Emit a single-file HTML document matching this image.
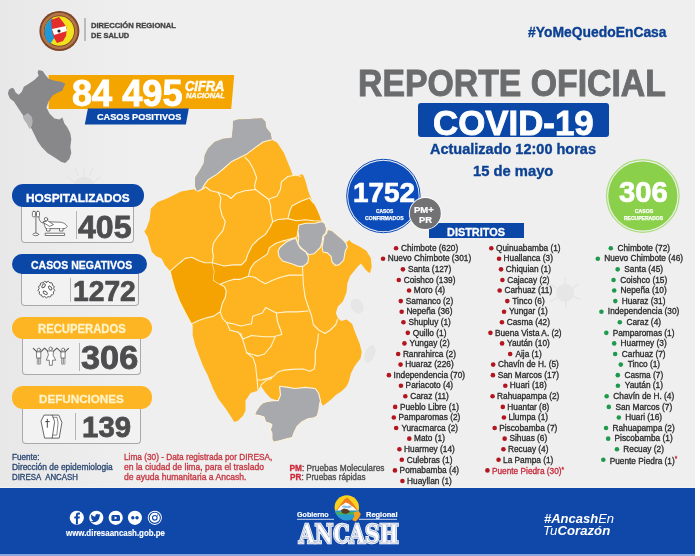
<!DOCTYPE html>
<html><head><meta charset="utf-8"><title>Reporte Oficial COVID-19 - Ancash</title>
<style>
html,body{margin:0;padding:0;background:#ffffff;}
#page{position:relative;width:700px;height:556px;overflow:hidden;font-family:'Liberation Sans', Arial, sans-serif;}
.t{position:absolute;white-space:nowrap;line-height:1;}
.s{position:absolute;left:0;top:0;}
.li{position:absolute;white-space:nowrap;font-size:8.3px;line-height:1;color:#2a2a2a;font-family:'Liberation Sans', Arial, sans-serif;-webkit-text-stroke:0.3px #2a2a2a;}
.b{display:inline-block;width:4.6px;height:4.6px;border-radius:50%;vertical-align:0.4px;-webkit-text-stroke:0;}
</style></head>
<body><div id="page">
<div style="position:absolute;left:0;top:0;width:695px;height:488px;background:#efefef;"></div>
<div style="position:absolute;left:0;top:0;width:140px;height:488px;background:linear-gradient(90deg,#e8e8e8,rgba(239,239,239,0));"></div>
<svg class="s" width="700" height="556" viewBox="0 0 700 556"><g fill="#e4e4e4" stroke="none">
<ellipse cx="357" cy="306" rx="6" ry="8" transform="rotate(-30 357 306)" fill="#e6e6e6"/><ellipse cx="370" cy="354" rx="5" ry="9" transform="rotate(20 370 354)" fill="#e6e6e6"/>
</g>
<g fill="none" stroke="#e6e6e6" stroke-width="1.6" stroke-linecap="round">
<circle cx="565" cy="293" r="9" fill="#e6e6e6" stroke="none"/>
<path d="M565,284 V278 M573,288 L578,284 M574,297 L580,299 M566,302 V308 M557,298 L551,301 M556,288 L551,284"/>
<circle cx="84" cy="188" r="11" fill="#e4e4e4" stroke="none"/>
<path d="M84,177 V169 M94,182 L100,177 M74,182 L68,177 M90,175 L93,168 M78,175 L75,168"/>
</g></svg>
<div style="position:absolute;left:0;top:488px;width:695px;height:66px;background:#0f48a9;"></div>
<div style="position:absolute;left:0;top:554px;width:695px;height:2px;background:#8aa6dc;"></div>
<div style="position:absolute;left:0;top:487px;width:695px;height:1px;background:#f2f2f2;"></div>
<svg class="s" width="700" height="556" viewBox="0 0 700 556"><circle cx="59.4" cy="31" r="20" fill="#7e4526"/>
<circle cx="59.4" cy="31" r="18.2" fill="#b47548"/>
<circle cx="59.4" cy="31" r="15.4" fill="#6e3b20"/>
<circle cx="59.4" cy="31" r="14.7" fill="#f2e21e"/>
<path d="M59.4,31 L44.8,31 A14.6,14.6 0 0 1 52,18.4 Z" fill="#8cc43f"/>
<path d="M52,18.4 L59.4,31 L50,44 A14.6,14.6 0 0 1 44.8,31 A14.6,14.6 0 0 1 52,18.4Z" fill="#1e98d8"/>
<path d="M51,20 L59,17 L63,22 L67,28 L66,36 L63,41 L57,43 L54,38 L52,31 Z" fill="#e32d2d"/>
<path d="M52,29 L66,26 L67,31 L54,35 Z" fill="#ffffff"/>
<circle cx="59" cy="31" r="1.6" fill="#222"/>
<line x1="85" y1="18" x2="85" y2="41" stroke="#8a8a8a" stroke-width="1"/></svg>
<div class="t" style="left:90.77px;top:22px;color:#444446;font-family:'Liberation Sans', Arial, sans-serif;font-size:8.1px;font-weight:700;font-style:normal;-webkit-text-stroke:0.35px #444446;transform:scaleX(0.9400);transform-origin:0 0;">DIRECCIÓN REGIONAL</div>
<div class="t" style="left:90.77px;top:32px;color:#444446;font-family:'Liberation Sans', Arial, sans-serif;font-size:8.1px;font-weight:700;font-style:normal;-webkit-text-stroke:0.35px #444446;transform:scaleX(0.9244);transform-origin:0 0;">DE SALUD</div>
<div class="t" style="left:528.00px;top:25px;color:#0d4193;font-family:'Liberation Sans', Arial, sans-serif;font-size:14.2px;font-weight:700;font-style:normal;-webkit-text-stroke:0.35px #0d4193;transform:scaleX(0.9782);transform-origin:0 0;">#YoMeQuedoEnCasa</div>
<div class="t" style="left:358.45px;top:66px;color:#6b6c6e;font-family:'Liberation Sans', Arial, sans-serif;font-size:36.6px;font-weight:700;font-style:normal;-webkit-text-stroke:0.92px #6b6c6e;transform:scaleX(0.9237);transform-origin:0 0;">REPORTE OFICIAL</div>
<div style="position:absolute;left:418px;top:102.8px;width:190.8px;height:33.8px;background:#0a47a6;border-radius:3px;"></div>
<div class="t" style="left:433.00px;top:105px;color:#ffffff;font-family:'Liberation Sans', Arial, sans-serif;font-size:35px;font-weight:700;font-style:normal;-webkit-text-stroke:0.88px #ffffff;transform:scaleX(0.9956);transform-origin:0 0;">COVID-19</div>
<div class="t" style="left:430.14px;top:142px;color:#0d4193;font-family:'Liberation Sans', Arial, sans-serif;font-size:14px;font-weight:700;font-style:normal;-webkit-text-stroke:0.35px #0d4193;transform:scaleX(1.0354);transform-origin:0 0;">Actualizado 12:00 horas</div>
<div class="t" style="left:473.32px;top:164px;color:#0d4193;font-family:'Liberation Sans', Arial, sans-serif;font-size:14.2px;font-weight:700;font-style:normal;-webkit-text-stroke:0.35px #0d4193;transform:scaleX(1.0400);transform-origin:0 0;">15 de mayo</div>
<div style="position:absolute;left:429.4px;top:222.9px;width:94.7px;height:15.4px;background:#0a47a6;"></div>
<div class="t" style="left:447.40px;top:227px;color:#ffffff;font-family:'Liberation Sans', Arial, sans-serif;font-size:11px;font-weight:700;font-style:normal;-webkit-text-stroke:0.28px #ffffff;transform:scaleX(0.9922);transform-origin:0 0;">DISTRITOS</div>
<svg class="s" width="700" height="556" viewBox="0 0 700 556"><circle cx="383.4" cy="196" r="36.7" fill="none" stroke="#0c4cba" stroke-width="1"/>
<circle cx="383.4" cy="196" r="35.3" fill="#0c4cba"/>
<circle cx="642.8" cy="196" r="36.3" fill="none" stroke="#a9de78" stroke-width="1.2"/>
<circle cx="642.8" cy="196" r="34.6" fill="#8bd04b"/>
<circle cx="425.3" cy="213.5" r="16.4" fill="#ffffff"/>
<circle cx="425.3" cy="213.5" r="15.5" fill="#727274"/></svg>
<div class="t" style="left:353.23px;top:178px;color:#ffffff;font-family:'Liberation Sans', Arial, sans-serif;font-size:28.5px;font-weight:700;font-style:normal;-webkit-text-stroke:0.71px #ffffff;transform:scaleX(0.9796);transform-origin:0 0;">1752</div>
<div class="t" style="left:376.10px;top:209px;color:#ffffff;font-family:'Liberation Sans', Arial, sans-serif;font-size:5.1px;font-weight:700;font-style:normal;-webkit-text-stroke:0.25px #ffffff;transform:scaleX(0.9556);transform-origin:0 0;">CASOS</div>
<div class="t" style="left:365.10px;top:216px;color:#ffffff;font-family:'Liberation Sans', Arial, sans-serif;font-size:5.1px;font-weight:700;font-style:normal;-webkit-text-stroke:0.25px #ffffff;">CONFIRMADOS</div>
<div class="t" style="left:414.39px;top:206px;color:#ffffff;font-family:'Liberation Sans', Arial, sans-serif;font-size:9.3px;font-weight:700;font-style:normal;-webkit-text-stroke:0.23px #ffffff;transform:scaleX(1.0240);transform-origin:0 0;">PM+</div>
<div class="t" style="left:419.20px;top:216px;color:#ffffff;font-family:'Liberation Sans', Arial, sans-serif;font-size:9.3px;font-weight:700;font-style:normal;-webkit-text-stroke:0.23px #ffffff;transform:scaleX(1.0041);transform-origin:0 0;">PR</div>
<div class="t" style="left:619.45px;top:177px;color:#ffffff;font-family:'Liberation Sans', Arial, sans-serif;font-size:29.5px;font-weight:700;font-style:normal;-webkit-text-stroke:0.74px #ffffff;transform:scaleX(0.9907);transform-origin:0 0;">306</div>
<div class="t" style="left:634.80px;top:209px;color:#ffffff;font-family:'Liberation Sans', Arial, sans-serif;font-size:5.2px;font-weight:700;font-style:normal;-webkit-text-stroke:0.25px #ffffff;">CASOS</div>
<div class="t" style="left:624.36px;top:216px;color:#ffffff;font-family:'Liberation Sans', Arial, sans-serif;font-size:5.2px;font-weight:700;font-style:normal;-webkit-text-stroke:0.25px #ffffff;transform:scaleX(0.9675);transform-origin:0 0;">RECUPERADOS</div>
<div class="li" style="left:401.00px;top:243.9px;">Chimbote (620)</div>
<div class="li" style="left:387.75px;top:254.48px;">Nuevo Chimbote (301)</div>
<div class="li" style="left:407.88px;top:265.06px;">Santa (127)</div>
<div class="li" style="left:403.75px;top:275.64px;">Coishco (139)</div>
<div class="li" style="left:413.75px;top:286.22px;">Moro (4)</div>
<div class="li" style="left:405.75px;top:296.8px;">Samanco (2)</div>
<div class="li" style="left:406.38px;top:307.38px;">Nepeña (36)</div>
<div class="li" style="left:408.38px;top:317.96px;">Shupluy (1)</div>
<div class="li" style="left:412.75px;top:328.54px;">Quillo (1)</div>
<div class="li" style="left:409.62px;top:339.12px;">Yungay (2)</div>
<div class="li" style="left:402.88px;top:349.7px;">Ranrahirca (2)</div>
<div class="li" style="left:405.25px;top:360.28px;">Huaraz (226)</div>
<div class="li" style="left:393.62px;top:370.86px;">Independencia (70)</div>
<div class="li" style="left:405.62px;top:381.44px;">Pariacoto (4)</div>
<div class="li" style="left:410.25px;top:392.02px;">Caraz (11)</div>
<div class="li" style="left:399.88px;top:402.6px;">Pueblo Libre (1)</div>
<div class="li" style="left:398.50px;top:413.18px;">Pamparomas (2)</div>
<div class="li" style="left:401.38px;top:423.76px;">Yuracmarca (2)</div>
<div class="li" style="left:414.00px;top:434.34px;">Mato (1)</div>
<div class="li" style="left:404.12px;top:444.92px;">Huarmey (14)</div>
<div class="li" style="left:406.75px;top:455.5px;">Culebras (1)</div>
<div class="li" style="left:399.62px;top:466.08px;">Pomabamba (4)</div>
<div class="li" style="left:407.12px;top:476.66px;">Huayllan (1)</div>
<svg class="s" width="700" height="556" viewBox="0 0 700 556"><circle cx="396.05" cy="248.20" r="2.3" fill="#b3161f"/><circle cx="383.05" cy="258.78" r="2.3" fill="#b3161f"/><circle cx="402.93" cy="269.36" r="2.3" fill="#b3161f"/><circle cx="398.80" cy="279.94" r="2.3" fill="#b3161f"/><circle cx="409.05" cy="290.52" r="2.3" fill="#b3161f"/><circle cx="400.80" cy="301.10" r="2.3" fill="#b3161f"/><circle cx="401.68" cy="311.68" r="2.3" fill="#b3161f"/><circle cx="403.43" cy="322.26" r="2.3" fill="#b3161f"/><circle cx="407.80" cy="332.84" r="2.3" fill="#b3161f"/><circle cx="404.43" cy="343.42" r="2.3" fill="#b3161f"/><circle cx="398.18" cy="354.00" r="2.3" fill="#b3161f"/><circle cx="400.55" cy="364.58" r="2.3" fill="#b3161f"/><circle cx="388.93" cy="375.16" r="2.3" fill="#b3161f"/><circle cx="400.93" cy="385.74" r="2.3" fill="#b3161f"/><circle cx="405.30" cy="396.32" r="2.3" fill="#b3161f"/><circle cx="395.18" cy="406.90" r="2.3" fill="#b3161f"/><circle cx="393.80" cy="417.48" r="2.3" fill="#b3161f"/><circle cx="396.18" cy="428.06" r="2.3" fill="#b3161f"/><circle cx="409.30" cy="438.64" r="2.3" fill="#b3161f"/><circle cx="399.43" cy="449.22" r="2.3" fill="#b3161f"/><circle cx="401.80" cy="459.80" r="2.3" fill="#b3161f"/><circle cx="394.93" cy="470.38" r="2.3" fill="#b3161f"/><circle cx="402.43" cy="480.96" r="2.3" fill="#b3161f"/></svg>
<div class="li" style="left:496.05px;top:243.9px;">Quinuabamba (1)</div>
<div class="li" style="left:503.55px;top:254.48px;">Huallanca (3)</div>
<div class="li" style="left:505.80px;top:265.06px;">Chiquian (1)</div>
<div class="li" style="left:507.17px;top:275.64px;">Cajacay (2)</div>
<div class="li" style="left:504.42px;top:286.22px;">Carhuaz (11)</div>
<div class="li" style="left:512.30px;top:296.8px;">Tinco (6)</div>
<div class="li" style="left:509.05px;top:307.38px;">Yungar (1)</div>
<div class="li" style="left:506.67px;top:317.96px;">Casma (42)</div>
<div class="li" style="left:494.92px;top:328.54px;">Buena Vista A. (2)</div>
<div class="li" style="left:507.05px;top:339.12px;">Yaután (10)</div>
<div class="li" style="left:515.42px;top:349.7px;">Aija (1)</div>
<div class="li" style="left:497.92px;top:360.28px;">Chavín de H. (5)</div>
<div class="li" style="left:497.67px;top:370.86px;">San Marcos (17)</div>
<div class="li" style="left:509.80px;top:381.44px;">Huari (18)</div>
<div class="li" style="left:497.05px;top:392.02px;">Rahuapampa (2)</div>
<div class="li" style="left:507.30px;top:402.6px;">Huantar (8)</div>
<div class="li" style="left:508.42px;top:413.18px;">Llumpa (1)</div>
<div class="li" style="left:499.17px;top:423.76px;">Piscobamba (7)</div>
<div class="li" style="left:509.42px;top:434.34px;">Sihuas (6)</div>
<div class="li" style="left:507.92px;top:444.92px;">Recuay (4)</div>
<div class="li" style="left:503.05px;top:455.5px;">La Pampa (1)</div>
<div class="li" style="left:491.92px;top:466.08px;"><span style="color:#c8283a;-webkit-text-stroke-color:#c8283a">Puente Piedra (30)<span style="font-size:6.5px;vertical-align:2.5px">*</span></span></div>
<svg class="s" width="700" height="556" viewBox="0 0 700 556"><circle cx="491.30" cy="248.20" r="2.3" fill="#b3161f"/><circle cx="499.05" cy="258.78" r="2.3" fill="#b3161f"/><circle cx="501.05" cy="269.36" r="2.3" fill="#b3161f"/><circle cx="502.42" cy="279.94" r="2.3" fill="#b3161f"/><circle cx="499.67" cy="290.52" r="2.3" fill="#b3161f"/><circle cx="507.30" cy="301.10" r="2.3" fill="#b3161f"/><circle cx="504.05" cy="311.68" r="2.3" fill="#b3161f"/><circle cx="501.92" cy="322.26" r="2.3" fill="#b3161f"/><circle cx="490.42" cy="332.84" r="2.3" fill="#b3161f"/><circle cx="502.05" cy="343.42" r="2.3" fill="#b3161f"/><circle cx="510.17" cy="354.00" r="2.3" fill="#b3161f"/><circle cx="493.17" cy="364.58" r="2.3" fill="#b3161f"/><circle cx="492.92" cy="375.16" r="2.3" fill="#b3161f"/><circle cx="505.30" cy="385.74" r="2.3" fill="#b3161f"/><circle cx="492.55" cy="396.32" r="2.3" fill="#b3161f"/><circle cx="502.80" cy="406.90" r="2.3" fill="#b3161f"/><circle cx="503.92" cy="417.48" r="2.3" fill="#b3161f"/><circle cx="494.67" cy="428.06" r="2.3" fill="#b3161f"/><circle cx="504.67" cy="438.64" r="2.3" fill="#b3161f"/><circle cx="503.42" cy="449.22" r="2.3" fill="#b3161f"/><circle cx="498.55" cy="459.80" r="2.3" fill="#b3161f"/><circle cx="487.42" cy="470.38" r="2.3" fill="#b3161f"/></svg>
<div class="li" style="left:617.45px;top:243.9px;">Chimbote (72)</div>
<div class="li" style="left:604.20px;top:254.48px;">Nuevo Chimbote (46)</div>
<div class="li" style="left:624.33px;top:265.06px;">Santa (45)</div>
<div class="li" style="left:620.20px;top:275.64px;">Coishco (15)</div>
<div class="li" style="left:620.58px;top:286.22px;">Nepeña (10)</div>
<div class="li" style="left:621.70px;top:296.8px;">Huaraz (31)</div>
<div class="li" style="left:607.83px;top:307.38px;">Independencia (30)</div>
<div class="li" style="left:626.45px;top:317.96px;">Caraz (4)</div>
<div class="li" style="left:612.70px;top:328.54px;">Pamparomas (1)</div>
<div class="li" style="left:620.58px;top:339.12px;">Huarmey (3)</div>
<div class="li" style="left:621.83px;top:349.7px;">Carhuaz (7)</div>
<div class="li" style="left:627.70px;top:360.28px;">Tinco (1)</div>
<div class="li" style="left:624.45px;top:370.86px;">Casma (7)</div>
<div class="li" style="left:624.83px;top:381.44px;">Yaután (1)</div>
<div class="li" style="left:613.33px;top:392.02px;">Chavín de H. (4)</div>
<div class="li" style="left:615.45px;top:402.6px;">San Marcos (7)</div>
<div class="li" style="left:625.20px;top:413.18px;">Huari (16)</div>
<div class="li" style="left:612.45px;top:423.76px;">Rahuapampa (2)</div>
<div class="li" style="left:614.58px;top:434.34px;">Piscobamba (1)</div>
<div class="li" style="left:623.33px;top:444.92px;">Recuay (2)</div>
<div class="li" style="left:609.70px;top:455.5px;">Puente Piedra (1)<span style="color:#d0283a;-webkit-text-stroke-color:#d0283a;font-size:6.5px;vertical-align:2.5px">*</span></div>
<svg class="s" width="700" height="556" viewBox="0 0 700 556"><circle cx="610.80" cy="248.20" r="2.3" fill="#1f9a4c"/><circle cx="597.80" cy="258.78" r="2.3" fill="#1f9a4c"/><circle cx="617.68" cy="269.36" r="2.3" fill="#1f9a4c"/><circle cx="613.55" cy="279.94" r="2.3" fill="#1f9a4c"/><circle cx="614.18" cy="290.52" r="2.3" fill="#1f9a4c"/><circle cx="615.30" cy="301.10" r="2.3" fill="#1f9a4c"/><circle cx="601.43" cy="311.68" r="2.3" fill="#1f9a4c"/><circle cx="619.80" cy="322.26" r="2.3" fill="#1f9a4c"/><circle cx="606.30" cy="332.84" r="2.3" fill="#1f9a4c"/><circle cx="614.18" cy="343.42" r="2.3" fill="#1f9a4c"/><circle cx="615.18" cy="354.00" r="2.3" fill="#1f9a4c"/><circle cx="620.80" cy="364.58" r="2.3" fill="#1f9a4c"/><circle cx="617.80" cy="375.16" r="2.3" fill="#1f9a4c"/><circle cx="617.93" cy="385.74" r="2.3" fill="#1f9a4c"/><circle cx="606.68" cy="396.32" r="2.3" fill="#1f9a4c"/><circle cx="608.80" cy="406.90" r="2.3" fill="#1f9a4c"/><circle cx="618.80" cy="417.48" r="2.3" fill="#1f9a4c"/><circle cx="606.05" cy="428.06" r="2.3" fill="#1f9a4c"/><circle cx="608.18" cy="438.64" r="2.3" fill="#1f9a4c"/><circle cx="616.93" cy="449.22" r="2.3" fill="#1f9a4c"/><circle cx="603.30" cy="459.80" r="2.3" fill="#1f9a4c"/></svg>
<svg class="s" width="700" height="556" viewBox="0 0 700 556"><polygon points="48.6,75 234.2,75 231.2,109 48.6,109" fill="#f5a500"/>
<polygon points="87.9,108.4 188.8,108.4 185.9,124.5 84.8,124.5" fill="#0a47a6"/>
<polygon fill="#88888b" points="38.6,69.9 42.6,70.9 45.5,74.9 48.5,78.8 54.5,80.8 61.4,81.8 65.3,83.8 63.4,87.7 62.4,90.7 57.4,92.7 52.5,95.6 48.5,101.6 46.5,107.5 49.5,113.5 54.5,118.4 59.4,119.4 62.4,117.4 64.4,123.4 67.3,127.3 70.3,133.3 71.3,139.2 70.3,147.1 71.3,153.1 69.3,159 65.3,163 61.4,162 55.4,158 47.5,153.1 41.6,147.1 37.6,141.2 33.7,133.3 30.7,127.3 25.7,119.4 21.8,113.5 17.8,107.5 13.9,101.6 9.9,98.6 7.9,93.7 8.9,89.7 11.9,87.7 13.9,88.7 15.8,92.7 18.8,94.7 21.8,91.7 23.8,86.7 28.7,83.8 34.7,79.8 38.6,75.8 37.6,71.9"/>
<polygon fill="#b3b3b6" points="22.8,116.4 27.7,113.1 31.7,116.4 32.7,121.4 31.7,126.3 29.7,129.3 26.7,123.4 23.8,119.4"/></svg>
<div class="t" style="left:71.85px;top:76px;color:#ffffff;font-family:'Liberation Sans', Arial, sans-serif;font-size:36px;font-weight:700;font-style:normal;-webkit-text-stroke:0.9px #ffffff;transform:scaleX(1.0041);transform-origin:0 0;">84 495</div>
<div class="t" style="left:184.67px;top:80px;color:#fffaf0;font-family:'Liberation Sans', Arial, sans-serif;font-size:13.8px;font-weight:700;font-style:italic;-webkit-text-stroke:0.6px #fffaf0;transform:scaleX(0.9358);transform-origin:0 0;">CIFRA</div>
<div class="t" style="left:185.70px;top:92px;color:#fffaf0;font-family:'Liberation Sans', Arial, sans-serif;font-size:7.3px;font-weight:700;font-style:italic;-webkit-text-stroke:0.35px #fffaf0;transform:scaleX(1.0092);transform-origin:0 0;">NACIONAL</div>
<div class="t" style="left:96.95px;top:113px;color:#ffffff;font-family:'Liberation Sans', Arial, sans-serif;font-size:9.3px;font-weight:700;font-style:normal;-webkit-text-stroke:0.23px #ffffff;transform:scaleX(0.9830);transform-origin:0 0;">CASOS POSITIVOS</div>
<svg class="s" width="700" height="556" viewBox="0 0 700 556">
<g stroke="#fff4d6" stroke-width="1.1" stroke-linejoin="round" fill="none">
<polygon fill="#fdb420" stroke="none" points="233,121 238,119.4 244.8,119.3 250,119 262,118.2 265.3,121.5 266.3,128 270.7,133.3 271.7,139.8 277,142.6 280.6,147.7 284,152.9 287.4,161.4 290.9,170 292.6,175 297.7,175 302.9,174.5 304.6,178.6 306.3,183.7 308,190.6 311.3,199 315.8,208 319.4,215.2 321,220 322.1,221.5 324.8,223.2 326.6,228.6 332,230.4 338.3,235.8 343.7,240.3 346.4,242.5 349.2,240 351.9,242.7 359.1,246.3 366.3,250.8 370.8,258 371.7,267 369.9,273.3 366.3,270.6 360.9,263.4 357.3,267 350.1,276 347.4,283.2 346.5,292.2 343,301.2 337.9,306.5 335.8,313 337.9,318.3 341.2,321 346.6,319.4 352,323.7 355.2,332.4 359.5,343.2 361.7,351.8 360.6,358.3 357.3,362.6 354.1,366.9 350.9,373.4 348.7,382 346.6,386.3 342.2,390.7 335.8,395 331.4,399.3 326.1,403.6 322.8,405.8 320.7,401.4 318.5,392.8 315.3,388.5 305.5,387.4 294.8,388.5 288.3,387.4 281,387 279.6,386.3 280.5,395.1 278.2,400.7 270.7,398.2 265.7,393.1 260.6,385.6 258.1,390.6 250.6,393.1 245.5,400.7 245.5,410.8 243,415.8 238,420.8 234.2,422.1 230.4,415.8 225.4,408.2 217.9,398.2 212.8,388.1 207.8,375.5 202.8,365.5 199,355.4 195.2,345.3 192.7,335.3 192.7,325.2 191.4,324 185.2,312.6 180.1,302.6 175.1,290 171.7,277.9 170.2,271.3 164.8,264.9 161.6,258.4 156.2,256.2 151.9,251.9 149.7,244.4 147.6,236.8 144.3,231.4 146.5,228.2 149.7,219.5 150.8,208.7 157.3,202.3 168.1,198 181,191.5 194,189.3 197.3,191.6 195.1,186.2 195.1,177.6 199.4,171.1 203.7,163.6 204.8,154.9 208.1,148.5 214.5,142 223.2,138.7 231.8,137.7 232.9,128"/>
<!-- darker provinces -->
<polygon fill="#f5a302" points="170.2,271.3 172.4,269.2 179.9,262.7 185.3,258.4 191.8,257.3 198.3,260.5 204.8,262.7 212.3,262.7 214.5,271.3 213.4,280 219.9,284.3 224.2,286.4 226.3,290.8 225.3,297.2 222.4,303.2 220.2,311.8 213.7,316.1 205.1,318.3 198.6,320.4 191.4,324 185.2,312.6 180.1,302.6 175.1,290 171.7,277.9"/>
<polygon fill="#f5a302" stroke="none" points="212.3,262.7 224.2,266 232.8,264.9 241.4,264.9 245.8,260.5 247.9,254.1 252.2,245.4 258.7,239 265.2,234.6 269.5,228.2 272.7,221.7 278.1,219.5 287.9,218.6 290.1,210 292.2,205.7 300.9,201.3 309.5,198.1 313.8,203.5 317.1,210 320.3,218.6 321,222 305,225 298,231 297,237 290,239 282.5,241.1 276,243.3 269.5,247.6 267.3,254.1 260.9,258.4 254.4,262.7 250.4,268.6 248.3,276.2 239.6,279.4 233.2,279.4 226.7,281.6 219.9,284.3 213.4,280 214.5,271.3"/>
<!-- band outline lines -->
<polyline points="212.3,262.7 224.2,266 232.8,264.9 241.4,264.9 245.8,260.5 247.9,254.1 252.2,245.4 258.7,239 265.2,234.6 269.5,228.2 272.7,221.7 278.1,219.5 287.9,218.6 290.1,210 292.2,205.7 300.9,201.3 309.5,198.1 313.8,203.5"/>
<polyline points="298,231 297,237 290,239 282.5,241.1 276,243.3 269.5,247.6 267.3,254.1 260.9,258.4 254.4,262.7 250.4,268.6 248.3,276.2 239.6,279.4 233.2,279.4 226.7,281.6 219.9,284.3"/>
<polyline points="287.9,218.6 296.6,220.8 305.2,219.7 313.8,220.8 320.5,221"/>
<!-- internal borders -->
<polyline points="244.8,157.1 249.1,161.4 253.4,169 256.6,177.6 254.5,186.2 255.5,189.5"/>
<polyline points="201.6,189.5 205.9,187 210.2,190.5 218.9,192.7 227.5,195.5 231,198.5 236.1,193.5 244.8,190.8 255.5,189.5 262,194.5 268.5,199.2 270.6,206 270.7,212 272.7,221.7"/>
<polyline points="217.7,191.5 220.9,198 219.9,206.6 222,215.2 225.3,221.7 223.1,230.3 217.7,236.8 213.4,243.3 212.3,249.8 213.4,256.2 212.3,262.7"/>
<polyline points="268.5,199.2 277.1,195.9 280.4,189.5 281.4,181.9 287.9,176.5 296.6,175 300.9,176.5"/>
<polyline points="248.3,276.2 254.8,277.3 261.2,281.6 265.5,283.7 272,280.5 280.7,277.3 289.3,275.1 295.8,275.1 302.2,275.1"/>
<polyline points="302.5,267 303.4,285 305.2,297.6 308.8,308.3 311.5,315.5 313.3,324.5 318.7,330 325,333.5 330.4,330 335.8,324.5 337.6,319.1"/>
<polyline points="220.2,311.8 222.4,318.3 226.7,322.6 233.2,323.7 240.8,326 251.6,323.7 252.7,316.2 262.4,313 265.6,307.6 276.4,313 286.1,311.9 296.9,311.9 308.5,311"/>
<polyline points="276.4,313 277.5,321.6 280.7,330.2 281.8,334.5 273.2,336.7 264.5,336.7 251.6,335.6 243,338.9 238.6,332.4 230,330.2 226.7,322.6"/>
<polyline points="240.5,332.8 243,340.3 246.8,352.9 253.1,357.9 255.6,365.5 256.9,378 258.1,390.6"/>
<polyline points="246.8,352.9 258.1,356.1 264.5,354 271,346.4 274.2,338.9 275.3,336.7"/>
<polyline points="318.5,333.5 317.4,343.2 315.3,351.8 315.3,362.6 314.2,369.1 309.9,371.2 303.4,369.1 294.8,369.1 284,370.1 277.5,372.3 273.2,376.6 262.4,379.9 256.9,380"/>
<polyline points="260.6,385.6 265.7,380.6 272,378.5"/>
<!-- grays -->
<polygon fill="#a8a9ad" points="233,121 238,119.4 244.8,119.3 250,119 262,118.2 265.3,121.5 266.3,128 270.7,133.3 271.7,139.8 263.1,142 255.5,147.4 246.9,153.9 238.3,158.2 231.8,161.4 223.2,169 216.7,174.4 208.1,179.8 204.8,184.1 201.6,189.5 197.3,191.6 195.1,186.2 195.1,177.6 199.4,171.1 203.7,163.6 204.8,154.9 208.1,148.5 214.5,142 223.2,138.7 231.8,137.7 232.9,128" stroke="none"/>
<polyline points="271.7,139.8 263.1,142 255.5,147.4 246.9,153.9 238.3,158.2 231.8,161.4 223.2,169 216.7,174.4 208.1,179.8 204.8,184.1 201.6,189.5 197.3,191.6"/>
<polygon fill="#a8a9ad" points="298.8,225 305.9,223.2 314.9,223.2 322.1,221.5 324.8,223.2 326.6,228.6 325.7,233.1 323,235.8 322.1,242.1 320.3,247.5 316.7,251.1 314,253.8 308.6,254.7 305,251.1 300.6,247.5 297.9,243.9 298.8,236.7 297.9,231.3"/>
<polygon fill="#a8a9ad" points="327.5,229.5 332,230.4 338.3,235.8 343.7,240.3 346.4,243.9 347.3,247.5 345.5,250.2 344.6,254.7 343.7,260.1 339.2,264.6 335.6,265.5 332,261.9 331.1,256.5 327.5,252.9 323,252 322.1,247.5 323,242.1 323.9,235.8 326.6,233.1"/>
<polygon fill="#a8a9ad" points="279.9,247.5 286.2,242.1 291.6,239.4 296.1,238.5 297.9,243.9 300.6,248.4 305.9,252 308.6,257.4 307.7,262.8 303.2,266.4 298.8,266.4 291.6,263.7 282.6,261 279,256.5 278.1,251.1"/>
<polygon fill="#a8a9ad" points="279.6,386.3 288.3,387.4 294.8,388.5 305.5,387.4 315.3,388.5 318.5,392.8 320.6,401 319.8,403 319,409.3 317.4,415.6 314.3,417.9 308,418.7 301.7,421.9 297,426.6 293.9,432.9 292.3,437.6 286,439.1 279.7,440.7 273.4,442.3 271.9,439.1 271.9,432.9 270.3,429.7 271.9,425 270.3,423.4 265.6,421.9 264,417.1 259.3,415.6 254.6,414.8 256.1,410.9 259.3,406.1 262.4,403 267.1,401.4 273.4,400.6 278.2,400.7 280.5,395.1"/>
</g>
</svg>

<div style="position:absolute;left:21.4px;top:202.8px;width:113.1px;height:40.19999999999999px;border:1px solid #a9a9ab;border-top:none;border-radius:0 0 4px 4px;box-sizing:border-box;background:#f2f2f2;"></div>
<div style="position:absolute;left:12px;top:184.3px;width:132px;height:22.5px;background:#0a47a6;border-radius:11.25px;"></div>
<div style="position:absolute;left:75.6px;top:210.8px;width:1px;height:28.19999999999999px;background:#b5b5b7;"></div>
<div class="t" style="left:26.48px;top:193px;color:#ffffff;font-family:'Liberation Sans', Arial, sans-serif;font-size:11.45px;font-weight:700;font-style:normal;-webkit-text-stroke:0.29px #ffffff;transform:scaleX(1.0352);transform-origin:0 0;">HOSPITALIZADOS</div>
<div class="t" style="left:78.00px;top:213px;color:#4d4d4f;font-family:'Liberation Sans', Arial, sans-serif;font-size:30.73px;font-weight:700;font-style:normal;-webkit-text-stroke:0.77px #4d4d4f;transform:scaleX(1.0443);transform-origin:0 0;">405</div>
<div style="position:absolute;left:21.3px;top:270.3px;width:117.39999999999999px;height:36.0px;border:1px solid #a9a9ab;border-top:none;border-radius:0 0 4px 4px;box-sizing:border-box;background:#f2f2f2;"></div>
<div style="position:absolute;left:12px;top:254.1px;width:134.7px;height:20.200000000000017px;background:#0a47a6;border-radius:10.100000000000009px;"></div>
<div style="position:absolute;left:69.7px;top:278.3px;width:1px;height:24.0px;background:#b5b5b7;"></div>
<div class="t" style="left:30.67px;top:260px;color:#ffffff;font-family:'Liberation Sans', Arial, sans-serif;font-size:11.17px;font-weight:700;font-style:normal;-webkit-text-stroke:0.28px #ffffff;transform:scaleX(0.9393);transform-origin:0 0;">CASOS NEGATIVOS</div>
<div class="t" style="left:72.83px;top:277px;color:#4d4d4f;font-family:'Liberation Sans', Arial, sans-serif;font-size:28.77px;font-weight:700;font-style:normal;-webkit-text-stroke:0.72px #4d4d4f;transform:scaleX(0.9814);transform-origin:0 0;">1272</div>
<div style="position:absolute;left:22.2px;top:335.3px;width:118.39999999999999px;height:39.80000000000001px;border:1px solid #a9a9ab;border-top:none;border-radius:0 0 4px 4px;box-sizing:border-box;background:#f2f2f2;"></div>
<div style="position:absolute;left:12px;top:317.3px;width:140px;height:22.0px;background:#fdb524;border-radius:11.0px;"></div>
<div style="position:absolute;left:78.9px;top:343.3px;width:1px;height:27.80000000000001px;background:#b5b5b7;"></div>
<div class="t" style="left:37.70px;top:323px;color:#fff3c8;font-family:'Liberation Sans', Arial, sans-serif;font-size:12.15px;font-weight:700;font-style:normal;-webkit-text-stroke:0.3px #fff3c8;transform:scaleX(0.9287);transform-origin:0 0;">RECUPERADOS</div>
<div class="t" style="left:80.74px;top:341px;color:#4d4d4f;font-family:'Liberation Sans', Arial, sans-serif;font-size:33.52px;font-weight:700;font-style:normal;-webkit-text-stroke:0.84px #4d4d4f;transform:scaleX(1.0228);transform-origin:0 0;">306</div>
<div style="position:absolute;left:22.2px;top:404.6px;width:118.39999999999999px;height:39.89999999999998px;border:1px solid #a9a9ab;border-top:none;border-radius:0 0 4px 4px;box-sizing:border-box;background:#f2f2f2;"></div>
<div style="position:absolute;left:12px;top:386.4px;width:140px;height:22.200000000000045px;background:#fdb524;border-radius:11.100000000000023px;"></div>
<div style="position:absolute;left:75.4px;top:412.6px;width:1px;height:27.899999999999977px;background:#b5b5b7;"></div>
<div class="t" style="left:38.78px;top:394px;color:#fff3c8;font-family:'Liberation Sans', Arial, sans-serif;font-size:11.17px;font-weight:700;font-style:normal;-webkit-text-stroke:0.28px #fff3c8;transform:scaleX(1.0447);transform-origin:0 0;">DEFUNCIONES</div>
<div class="t" style="left:81.94px;top:412px;color:#4d4d4f;font-family:'Liberation Sans', Arial, sans-serif;font-size:30.31px;font-weight:700;font-style:normal;-webkit-text-stroke:0.76px #4d4d4f;transform:scaleX(0.9720);transform-origin:0 0;">139</div>
<svg class="s" width="700" height="556" viewBox="0 0 700 556"><g fill="#ffffff" stroke="#58585a" stroke-width="0.8" stroke-linejoin="round" stroke-linecap="round">
<!-- IV pole -->
<line x1="35.9" y1="212" x2="35.9" y2="233.5" stroke="#8a8a8c" stroke-width="1.3"/>
<rect x="32.4" y="211.3" width="3" height="5.6" rx="1.3"/>
<rect x="36.5" y="211.3" width="3" height="5.6" rx="1.3"/>
<ellipse cx="35.8" cy="234.4" rx="2.9" ry="1.3"/>
<path d="M38.9,216.8 C39.2,220 40,222.4 42.8,223" fill="none"/>
<!-- bed -->
<path d="M44,221.6 L61.5,222.3 C64.5,223.2 66.5,224.8 67.2,226.4 L65.1,228.6 L45.8,228.6 L44.8,226.2 Z"/>
<path d="M43.2,222.2 L47.6,220.6 L53.5,224.6 L50,226.2 Z"/>
<circle cx="46" cy="219.2" r="1.7"/>
<path d="M46.5,228.6 L46.5,231 L50,231 L50,228.6 M59.5,228.6 L59.5,231 L63,231 L63,228.6"/>
<path d="M45.6,233.2 L64.6,233.2 L64.6,235.5 L45.6,235.5 Z"/>
<!-- virus -->
<path d="M46.40,282.10 Q48.75,279.88 49.79,282.94 Q52.90,282.06 52.41,285.25 Q55.56,285.92 53.65,288.52 Q56.13,290.58 53.23,291.99 Q54.47,294.97 51.24,294.86 Q50.95,298.08 48.15,296.49 Q46.40,299.20 44.65,296.49 Q41.85,298.08 41.56,294.86 Q38.33,294.97 39.57,291.99 Q36.67,290.58 39.15,288.52 Q37.24,285.92 40.39,285.25 Q39.90,282.06 43.01,282.94 Q44.05,279.88 46.40,282.10 Z" stroke-width="1"/>
<ellipse cx="43.6" cy="285.8" rx="2.3" ry="1.3" transform="rotate(-50 43.6 285.8)" fill="none" stroke-width="1"/>
<ellipse cx="50.2" cy="288" rx="2.3" ry="1.3" transform="rotate(55 50.2 288)" fill="none" stroke-width="1"/>
<ellipse cx="45.2" cy="292.8" rx="2.3" ry="1.3" transform="rotate(30 45.2 292.8)" fill="none" stroke-width="1"/>
<!-- family -->
<g stroke-width="0.75">
<path d="M33.3,348.4 L37.2,352.2 M40.5,352.2 L44.6,348.1 L47.7,351.2 M53.6,351.2 L56.8,348.1 L61.4,352.2 M64.8,352.2 L68.5,348.4" fill="none" stroke-width="1.1"/>
<rect x="37.3" y="357.6" width="1.5" height="6.7" rx="0.6" stroke-width="0.6"/><rect x="39.1" y="357.6" width="1.5" height="6.7" rx="0.6" stroke-width="0.6"/><path d="M37,351.9 L40.8,351.9 L40.8,358 L37,358 Z"/>
<rect x="61.6" y="357.6" width="1.5" height="6.7" rx="0.6" stroke-width="0.6"/><rect x="63.4" y="357.6" width="1.5" height="6.7" rx="0.6" stroke-width="0.6"/><path d="M61.3,351.9 L65.1,351.9 L65.1,358 L61.3,358 Z"/>
<path d="M47.8,351 L53.5,351 L53.1,355.2 L55.7,360.2 L52.4,360.2 L52.3,365.3 L49.4,365.3 L49.3,360.2 L46.3,360.2 L48.3,355.2 Z"/>
<circle cx="38.85" cy="349.7" r="1.6"/>
<circle cx="50.65" cy="348.7" r="1.7"/>
<circle cx="63.15" cy="349.7" r="1.6"/>
</g>
<!-- coffin -->
<path d="M44.4,415.1 L58.7,415.1 L61.9,422.4 L59.2,438.1 L44.6,438.1 L41.1,421.6 Z" stroke-width="0.9"/>
<path d="M52.2,415.1 L54.6,421.6 L52.2,438.1" fill="none" stroke-width="0.9"/>
<path d="M53.3,417.3 L57,417.3 L58.1,423 L56.8,435.1 L53,435.1" fill="none" stroke-width="0.7"/>
<path d="M47.3,419.2 L47.3,427.3 M45.7,421.6 L49.3,421.6" stroke="#333" stroke-width="0.9"/>
</g>
</svg>
<div class="t" style="left:11.54px;top:453px;color:#2f4a74;font-family:'Liberation Sans', Arial, sans-serif;font-size:8.8px;font-weight:400;font-style:normal;-webkit-text-stroke:0.35px #2f4a74;transform:scaleX(0.9252);transform-origin:0 0;">Fuente:</div>
<div class="t" style="left:11.52px;top:463px;color:#2f4a74;font-family:'Liberation Sans', Arial, sans-serif;font-size:8.8px;font-weight:400;font-style:normal;-webkit-text-stroke:0.35px #2f4a74;transform:scaleX(0.9530);transform-origin:0 0;">Dirección de epidemiologia</div>
<div class="t" style="left:11.55px;top:473px;color:#2f4a74;font-family:'Liberation Sans', Arial, sans-serif;font-size:8.8px;font-weight:400;font-style:normal;-webkit-text-stroke:0.35px #2f4a74;transform:scaleX(0.8935);transform-origin:0 0;">DIRESA&nbsp; ANCASH</div>
<div class="t" style="left:123.63px;top:453px;color:#c73a45;font-family:'Liberation Sans', Arial, sans-serif;font-size:8.8px;font-weight:400;font-style:normal;-webkit-text-stroke:0.35px #c73a45;transform:scaleX(0.9391);transform-origin:0 0;">Lima (30) - Data registrada por DIRESA,</div>
<div class="t" style="left:123.86px;top:463px;color:#c73a45;font-family:'Liberation Sans', Arial, sans-serif;font-size:8.8px;font-weight:400;font-style:normal;-webkit-text-stroke:0.35px #c73a45;transform:scaleX(0.9738);transform-origin:0 0;">en la ciudad de lima, para el traslado</div>
<div class="t" style="left:123.86px;top:473px;color:#c73a45;font-family:'Liberation Sans', Arial, sans-serif;font-size:8.8px;font-weight:400;font-style:normal;-webkit-text-stroke:0.35px #c73a45;transform:scaleX(0.9739);transform-origin:0 0;">de ayuda humanitaria a Ancash.</div>
<div class="t" style="left:289.50px;top:464px;color:#4a4a4c;font-family:'Liberation Sans', Arial, sans-serif;font-size:8.3px;font-weight:400;font-style:normal;-webkit-text-stroke:0.3px #4a4a4c;"><span style="color:#d0283a;-webkit-text-stroke-color:#d0283a;font-weight:700">PM</span>: Pruebas Moleculares</div>
<div class="t" style="left:289.51px;top:473px;color:#4a4a4c;font-family:'Liberation Sans', Arial, sans-serif;font-size:8.3px;font-weight:400;font-style:normal;-webkit-text-stroke:0.3px #4a4a4c;transform:scaleX(0.9868);transform-origin:0 0;"><span style="color:#d0283a;-webkit-text-stroke-color:#d0283a;font-weight:700">PR</span>: Pruebas rápidas</div>
<svg class="s" width="700" height="556" viewBox="0 0 700 556"><circle cx="76.8" cy="517.8" r="7.1" fill="#ffffff"/>
<circle cx="96.3" cy="517.8" r="7.1" fill="#ffffff"/>
<circle cx="115.7" cy="517.8" r="7.1" fill="#ffffff"/>
<circle cx="134.9" cy="517.8" r="7.1" fill="#ffffff"/>
<circle cx="154.8" cy="517.8" r="7.1" fill="#ffffff"/>
<path d="M77.9,524.5 V518.6 H79.6 L79.9,516.6 H77.9 V515.4 C77.9,514.8 78.2,514.5 78.8,514.5 H80 V512.7 C79.6,512.6 79,512.6 78.4,512.6 C76.7,512.6 75.9,513.6 75.9,515.2 V516.6 H74.3 V518.6 H75.9 V524.5 Z" fill="#0f48a9"/>
<path d="M100.5,514.8 C100.1,515 99.7,515.1 99.3,515.1 C99.7,514.9 100,514.5 100.2,514 C99.8,514.2 99.3,514.4 98.9,514.5 C98.5,514.1 98,513.9 97.4,513.9 C96.3,513.9 95.3,514.8 95.3,516 C95.3,516.2 95.3,516.3 95.4,516.5 C93.7,516.4 92.2,515.6 91.2,514.4 C91,514.7 90.9,515.1 90.9,515.5 C90.9,516.2 91.3,516.8 91.8,517.2 C91.5,517.2 91.1,517.1 90.8,516.9 C90.8,518 91.6,518.8 92.5,519 C92.2,519.1 91.8,519.1 91.5,519 C91.8,519.9 92.6,520.5 93.5,520.5 C92.6,521.2 91.4,521.6 90.3,521.4 C91.3,522 92.4,522.3 93.5,522.3 C97.5,522.3 99.6,519 99.6,516.1 V515.9 C100,515.6 100.3,515.2 100.5,514.8 Z" fill="#0f48a9"/>
<rect x="111.4" y="514.9" width="8.6" height="6" rx="1.5" fill="#0f48a9"/><path d="M114.6,516.3 V519.5 L117.3,517.9 Z" fill="#fff"/>
<circle cx="132.8" cy="517.8" r="1.7" fill="#0f48a9"/><circle cx="137" cy="517.8" r="1.7" fill="#0f48a9"/>
<circle cx="154.8" cy="517.8" r="5.6" fill="none" stroke="#0f48a9" stroke-width="1.1"/><circle cx="154.8" cy="517.8" r="2.3" fill="none" stroke="#0f48a9" stroke-width="1.1"/><circle cx="157.5" cy="515.1" r="0.7" fill="#0f48a9"/>
<circle cx="346.8" cy="507.5" r="12.2" fill="#fbd11c"/>
<path d="M336.5,510 L342,502.5 L344.5,499.2 L347,497.5 L350,500 L353.5,504 L357.5,510 Z" fill="#ef7d22"/>
<path d="M337,510.5 L340.5,506 L343,504.5 L345.5,502.5 L348.5,503.5 L351,505.5 L354,507.5 L357,510.5 Z" fill="#ffffff"/>
<path d="M341,507 L344,505.2 L347,506 L350,505.5 L352,507 L349,508.2 L345,508 Z" fill="#8fc4e6"/>
<path d="M334.8,510.5 L358.8,510.5 A12.2,12.2 0 0 1 334.8,510.5 Z" fill="#2a9bd0"/>
<path d="M336,512 L357.5,512 L356,514.5 L337.5,514.5 Z" fill="#4caf50"/>
<path d="M341,510 L344,508.5 L348,509.5 L350,512 L346,514 L342,513 Z" fill="#5a3a24"/>
<path d="M353.5,512.5 L358.5,511 L360.8,514 L359,518 L355.5,521.5 L352,520 L354.5,516.5 Z" fill="#f4a21e"/>
<line x1="297" y1="519.3" x2="334" y2="519.3" stroke="#ffffff" stroke-width="0.8"/><line x1="359" y1="519.3" x2="397" y2="519.3" stroke="#ffffff" stroke-width="0.8"/></svg>
<div class="t" style="left:66.00px;top:528px;color:#ffffff;font-family:'Liberation Sans', Arial, sans-serif;font-size:9.6px;font-weight:700;font-style:normal;-webkit-text-stroke:0.15px #ffffff;transform:scaleX(0.8242);transform-origin:0 0;">www.diresaancash.gob.pe</div>
<div class="t" style="left:297.38px;top:511px;color:#ffffff;font-family:'Liberation Sans', Arial, sans-serif;font-size:8px;font-weight:700;font-style:normal;-webkit-text-stroke:0.2px #ffffff;transform:scaleX(0.8908);transform-origin:0 0;">Gobierno</div>
<div class="t" style="left:365.53px;top:511px;color:#ffffff;font-family:'Liberation Sans', Arial, sans-serif;font-size:8px;font-weight:700;font-style:normal;-webkit-text-stroke:0.2px #ffffff;transform:scaleX(0.9344);transform-origin:0 0;">Regional</div>
<div class="t" style="left:298.92px;top:521px;color:#ffffff;font-family:'DejaVu Serif Condensed','DejaVu Serif', serif;font-size:26px;font-weight:700;font-style:normal;transform:scaleX(0.8646);transform-origin:0 0;-webkit-text-stroke:2.6px #f4f6fa;">ANCASH</div>
<div class="t" style="left:298.92px;top:521px;color:#ffffff;font-family:'DejaVu Serif Condensed','DejaVu Serif', serif;font-size:26px;font-weight:700;font-style:normal;transform:scaleX(0.8646);transform-origin:0 0;-webkit-text-stroke:0.5px #8d9bbd;">ANCASH</div>
<div class="t" style="left:544.00px;top:512px;color:#ffffff;font-family:'Liberation Sans', Arial, sans-serif;font-size:13px;font-weight:400;font-style:italic;"><b>#Ancash</b><span style="font-weight:400">En</span></div>
<div class="t" style="left:543.23px;top:524px;color:#ffffff;font-family:'Liberation Sans', Arial, sans-serif;font-size:13px;font-weight:400;font-style:italic;transform:scaleX(1.0155);transform-origin:0 0;"><span style="font-weight:400">Tu</span><b>Corazón</b></div>
<div style="position:absolute;left:695px;top:0;width:5px;height:556px;background:#ffffff;"></div>
</div></body></html>
